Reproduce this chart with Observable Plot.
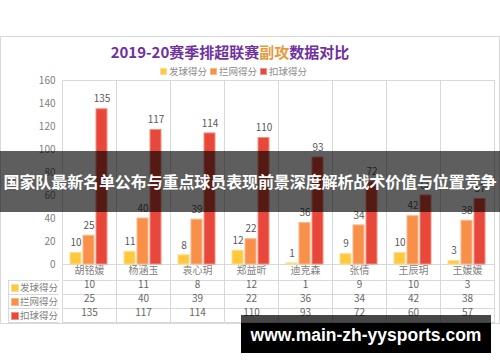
<!DOCTYPE html>
<html>
<head>
<meta charset="utf-8">
<script src="https://cdn.jsdelivr.net/npm/d3@7"></script>
<script src="https://cdn.jsdelivr.net/npm/@observablehq/plot@0.6"></script>
<style>
  html, body { margin:0; padding:0; background:#fff; }
  #wrap { position:relative; width:500px; height:362px; overflow:hidden; background:#fff; font-family:"Noto Sans CJK SC","Noto Sans",sans-serif; }
  #box { position:absolute; left:0; top:36px; width:498px; height:286px; border:1px solid #d9d9d9; }
  #title { position:absolute; left:0; width:460px; top:41px; text-align:center; font-size:15px; font-weight:bold; color:#7030A0; line-height:22px; }
  #title .hl { color:#E59A3C; }
  #legend { position:absolute; left:160px; top:64px; height:14px; display:flex; font-size:9.5px; color:#8c8c8c; line-height:14px; white-space:nowrap; }
  #legend .item { display:flex; align-items:center; width:50px; }
  #legend .sw { width:7px; height:7px; margin-right:2px; box-sizing:border-box; }
  #plot { position:absolute; left:0; top:0; }
  #rowhead { position:absolute; left:8px; top:280px; width:51px; border-top:1px solid #d9d9d9; }
  #rowhead .r { box-sizing:border-box; height:14px; border-left:1px solid #d9d9d9; border-bottom:1px solid #d9d9d9; display:flex; align-items:center; font-size:9.5px; color:#7f7f7f; line-height:13px; white-space:nowrap; overflow:hidden; }
  #rowhead .sw { width:8px; height:8px; margin:0 1px 0 2px; box-sizing:border-box; flex:none; }
  #banner { position:absolute; left:0; top:151px; width:500px; height:61px; background:rgba(0,0,0,0.63); color:#fff; font-weight:bold; font-size:16px; line-height:61px; text-align:center; white-space:nowrap; letter-spacing:-0.1px; }
  #wm1 { position:absolute; left:241px; top:315px; width:250px; height:8px; background:rgba(0,0,0,0.72); }
  #wm2 { position:absolute; left:241px; top:323px; width:250px; height:30px; background:#000; }
  #wmt { position:absolute; left:241px; top:315px; width:250px; height:38px; color:#fff; font-family:"Liberation Sans",Arial,sans-serif; font-weight:bold; font-size:17.5px; line-height:40px; text-align:center; }
</style>
</head>
<body>
<div id="wrap">
  <div id="box"></div>
  <div id="title">2019-20赛季排超联赛<span class="hl">副攻</span>数据对比</div>
  <div id="legend"></div>
  <div id="plot"></div>
  <div id="rowhead"></div>
  <div id="banner">国家队最新名单公布与重点球员表现前景深度解析战术价值与位置竞争</div>
  <div id="wm1"></div>
  <div id="wm2"></div>
  <div id="wmt">www.main-zh-yysports.com</div>
</div>
<script>
// ---- data ----
const players = ["胡铭媛", "杨涵玉", "袁心玥", "郑益昕", "迪克森", "张倩", "王辰玥", "王媛媛"];
const seriesNames = ["发球得分", "拦网得分", "扣球得分"];
const serveValues = [10, 11, 8, 12, 1, 9, 10, 3];
const blockValues = [25, 40, 39, 22, 36, 34, 42, 38];
const spikeValues = [135, 117, 114, 110, 93, 72, 60, 57];
const yTicks = [0, 20, 40, 60, 80, 100, 120, 140, 160];

// ---- styles ----
const fills = ["#FFC83D", "#F8904A", "#E8473B"];
const borders = ["#FCDF8E", "#FBB887", "#F3937F"];
const grid = "#d9d9d9";

const seriesValues = [serveValues, blockValues, spikeValues];
const rows = [];
players.forEach((p, i) => {
  seriesNames.forEach((s, k) => rows.push({player: p, series: s, value: seriesValues[k][i]}));
});

// legend + row headers (HTML)
const legend = document.getElementById("legend");
const rowhead = document.getElementById("rowhead");
seriesNames.forEach((s, k) => {
  const it = document.createElement("div");
  it.className = "item";
  it.innerHTML = `<div class="sw" style="background:${fills[k]};border:1px solid ${borders[k]}"></div><span>${s}</span>`;
  legend.appendChild(it);
  const r = document.createElement("div");
  r.className = "r";
  r.innerHTML = `<div class="sw" style="background:${fills[k]};border:1px solid ${borders[k]}"></div><span>${s}</span>`;
  rowhead.appendChild(r);
});

const H = 362, mTop = 80, mBottom = 98;
const frameH = H - mTop - mBottom; // 184
const marks = [
  Plot.frame({stroke: grid}),
  // table grid under the plot, per column
  Plot.frame({stroke: grid, insetTop: frameH, insetBottom: -16}),
  Plot.frame({stroke: grid, insetTop: frameH + 16, insetBottom: -30}),
  Plot.frame({stroke: grid, insetTop: frameH + 30, insetBottom: -44}),
  Plot.frame({stroke: grid, insetTop: frameH + 44, insetBottom: -58})
];
seriesNames.forEach((s, k) => {
  marks.push(Plot.barY(rows, {
    filter: d => d.series === s, x: "series", y: "value",
    fill: fills[k], stroke: borders[k], strokeWidth: 1
  }));
});
marks.push(Plot.text(rows, {
  x: "series", y: "value", text: d => String(d.value), dy: -10,
  fill: "#595959", fontSize: 10
}));
// category labels
marks.push(Plot.text(rows, {
  filter: d => d.series === seriesNames[0], text: "player",
  frameAnchor: "bottom", dy: 9.5, fill: "#7f7f7f", fontSize: 10
}));
// table values
seriesNames.forEach((s, k) => {
  marks.push(Plot.text(rows, {
    filter: d => d.series === s, text: d => String(d.value),
    frameAnchor: "bottom", dy: 23.5 + 14 * k, fill: "#666666", fontSize: 10
  }));
});

const chart = Plot.plot({
  width: 500,
  height: H,
  marginTop: mTop,
  marginBottom: mBottom,
  marginLeft: 59,
  marginRight: 4,
  style: {background: "transparent", fontFamily: "Noto Sans CJK SC, Noto Sans, sans-serif", fontSize: "10px", color: "#808080"},
  facet: {data: rows, x: "player", label: null},
  fx: {domain: players, padding: 0, axis: null},
  x: {domain: seriesNames, paddingInner: 0.15, paddingOuter: 0.6, axis: null},
  y: {domain: [0, 160], ticks: yTicks, tickSize: 0, tickPadding: 7, label: null},
  marks
});
document.getElementById("plot").appendChild(chart);
</script>
</body>
</html>
